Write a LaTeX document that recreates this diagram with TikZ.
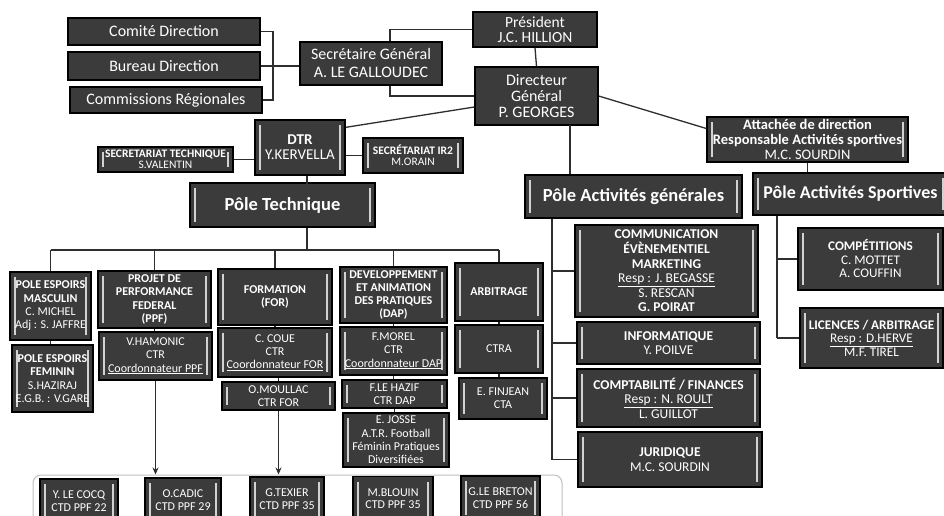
\documentclass[tikz,border=0pt]{standalone}
\usepackage{fontspec}
\setmainfont{Carlito}
\usetikzlibrary{arrows.meta}
\definecolor{boxgray}{HTML}{3B3B3B}
\definecolor{bargray}{HTML}{D2D2D2}
\definecolor{linegray}{HTML}{2E2E2E}
\tikzset{
  box/.style={draw=black,line width=1.3pt,fill=boxgray,text=white,align=center,inner sep=1pt},
  bevel/.style={box,path picture={
    \draw[bargray,line width=1.6pt]
      ([xshift=5pt,yshift=-5pt]path picture bounding box.north west) -- ([xshift=5pt,yshift=5pt]path picture bounding box.south west)
      ([xshift=-5pt,yshift=-5pt]path picture bounding box.north east) -- ([xshift=-5pt,yshift=5pt]path picture bounding box.south east);}},
  link/.style={draw=linegray,line width=1.3pt},
  fa/.style={font=\fontsize{16}{16}\selectfont},
  fsg/.style={font=\fontsize{16}{18}\selectfont},
  fp/.style={font=\fontsize{15.5}{15}\selectfont},
  fdtr/.style={font=\fontsize{15}{15}\selectfont},
  fatt/.style={font=\fontsize{14.5}{15}\selectfont},
  fsec/.style={font=\fontsize{11.5}{11}\selectfont},
  fpole/.style={font=\fontsize{18.5}{20}\selectfont\bfseries},
  frow/.style={font=\fontsize{12}{13.3}\selectfont},
  frowb/.style={font=\fontsize{12}{13.3}\selectfont\bfseries},
  fright/.style={font=\fontsize{13.5}{14.6}\selectfont},
  fsport/.style={font=\fontsize{13.2}{13.5}\selectfont},
  fctd/.style={font=\fontsize{12}{12.5}\selectfont},
}
\begin{document}
\begin{tikzpicture}[x=1pt,y=-1pt]
\useasboundingbox[fill=white] (0,0) rectangle (944,515);
% instances de direction
\node[box,fa,minimum width=192pt,minimum height=27pt] (comite) at (164,31.5) {Comité Direction};
\node[box,fa,minimum width=192pt,minimum height=28pt] (bureau) at (164,66) {Bureau Direction};
\node[box,fa,minimum width=192pt,minimum height=26pt] (commissions) at (166,100) {Commissions Régionales};
\node[box,fsg,minimum width=142pt,minimum height=43pt] (secgen) at (371,63.5) {Secrétaire Général\\A. LE GALLOUDEC};
\node[box,fp,minimum width=124pt,minimum height=35pt] (president) at (535,29.5) {Président\\J.C. HILLION};
\node[box,fa,minimum width=123pt,minimum height=58pt] (directeur) at (536.5,96) {Directeur\\Général\\P. GEORGES};
\node[bevel,fatt,minimum width=201pt,minimum height=45pt] (attachee) at (807.5,139.5) {\textbf{Attachée de direction}\\\textbf{Responsable Activités sportives}\\M.C. SOURDIN};
\node[bevel,fdtr,minimum width=90pt,minimum height=55pt] (dtr) at (300,147.5) {\textbf{DTR}\\Y.KERVELLA};
\node[bevel,fsec,minimum width=135pt,minimum height=25pt] (sectech) at (165.5,159.5) {\textbf{SECRETARIAT TECHNIQUE}\\S.VALENTIN};
\node[bevel,fsec,minimum width=100pt,minimum height=35pt] (secir) at (413,155.5) {\textbf{SECRÉTARIAT IR2}\\M.ORAIN};
% poles
\node[bevel,fpole,minimum width=185pt,minimum height=44pt] (poletech) at (282.5,205) {Pôle Technique};
\node[bevel,fpole,minimum width=217pt,minimum height=43pt] (poleag) at (633.5,196.5) {Pôle Activités générales};
\node[bevel,fpole,font=\fontsize{18}{20}\selectfont\bfseries,minimum width=195pt,minimum height=42pt] (poleas) at (850.5,194) {Pôle Activités Sportives};
% pole technique
\node[bevel,frow,minimum width=81pt,minimum height=68pt] (espm) at (50.5,306) {\textbf{POLE ESPOIRS}\\\textbf{MASCULIN}\\C. MICHEL\\Adj : S. JAFFRE};
\node[bevel,frow,minimum width=81pt,minimum height=67pt] (espf) at (52.5,378.5) {\textbf{POLE ESPOIRS}\\\textbf{FEMININ}\\S.HAZIRAJ\\E.G.B. : V.GARE};
\node[bevel,frowb,minimum width=113pt,minimum height=57pt] (ppf) at (154.5,299.5) {PROJET DE\\PERFORMANCE\\FEDERAL\\(PPF)};
\node[bevel,frow,minimum width=113pt,minimum height=48pt] (hamonic) at (155.5,356) {V.HAMONIC\\CTR\\\underline{Coordonnateur PPF}};
\node[bevel,frowb,minimum width=114pt,minimum height=56pt] (form) at (275,297) {FORMATION\\(FOR)};
\node[bevel,frow,minimum width=114pt,minimum height=49pt] (coue) at (275,352.5) {C. COUE\\CTR\\\underline{Coordonnateur FOR}};
\node[bevel,frow,minimum width=113pt,minimum height=28pt] (moullac) at (278.5,396) {O.MOULLAC\\CTR FOR};
\node[bevel,frowb,minimum width=107pt,minimum height=56pt] (dap) at (393.5,295) {DEVELOPPEMENT\\ET ANIMATION\\DES PRATIQUES\\(DAP)};
\node[bevel,frow,minimum width=107pt,minimum height=48pt] (morel) at (393.5,351) {F.MOREL\\CTR\\\underline{Coordonnateur DAP}};
\node[bevel,frow,minimum width=105pt,minimum height=28pt] (lehazif) at (394.5,394) {F.LE HAZIF\\CTR DAP};
\node[bevel,frow,minimum width=106pt,minimum height=54pt] (josse) at (396,440) {E. JOSSE\\A.T.R. Football\\Féminin Pratiques\\Diversifiées};
\node[bevel,frowb,minimum width=88pt,minimum height=58pt] (arbit) at (499,292) {ARBITRAGE};
\node[bevel,frow,minimum width=88pt,minimum height=48pt] (ctra) at (499,349) {CTRA};
\node[bevel,frow,minimum width=88pt,minimum height=41pt] (finjean) at (503,398.5) {E. FINJEAN\\CTA};
% pole activites generales
\node[bevel,fright,minimum width=183pt,minimum height=92pt] (comm) at (666.5,271) {\textbf{COMMUNICATION}\\\textbf{ÉVÈNEMENTIEL}\\\textbf{MARKETING}\\\underline{Resp : J. BEGASSE}\\S. RESCAN\\\textbf{G. POIRAT}};
\node[bevel,fright,minimum width=183pt,minimum height=42pt] (info) at (668.5,343) {\textbf{INFORMATIQUE}\\Y. POILVE};
\node[bevel,fright,minimum width=183pt,minimum height=58pt] (compta) at (668.5,398) {\textbf{COMPTABILITÉ / FINANCES}\\\underline{Resp : N. ROULT}\\L. GUILLOT};
\node[bevel,fright,minimum width=184pt,minimum height=55pt] (juri) at (670,459.5) {\textbf{JURIDIQUE}\\M.C. SOURDIN};
% pole activites sportives
\node[bevel,fsport,minimum width=145pt,minimum height=62pt] (compet) at (870.5,259) {\textbf{COMPÉTITIONS}\\C. MOTTET\\A. COUFFIN};
\node[bevel,fsport,minimum width=143pt,minimum height=60pt] (licences) at (871.5,338) {\textbf{LICENCES / ARBITRAGE}\\\underline{Resp : D.HERVE}\\M.F. TIREL};
% CTD
\node[draw=black!25,line width=1pt,rounded corners=8pt,fill=white,minimum width=529pt,minimum height=62pt] (pool) at (297.5,506) {};
\node[bevel,fctd,minimum width=78pt,minimum height=44pt] (lecocq) at (79,501) {Y. LE COCQ\\CTD PPF 22};
\node[bevel,fctd,minimum width=76pt,minimum height=44pt] (cadic) at (183,500) {O.CADIC\\CTD PPF 29};
\node[bevel,fctd,minimum width=74pt,minimum height=44pt] (texier) at (287,499) {G.TEXIER\\CTD PPF 35};
\node[bevel,fctd,minimum width=80pt,minimum height=44pt] (blouin) at (393,498.5) {M.BLOUIN\\CTD PPF 35};
\node[bevel,fctd,minimum width=79pt,minimum height=44pt] (lebreton) at (500.5,498) {G.LE BRETON\\CTD PPF 56};

\coordinate (dgfoot) at (570,125);
\coordinate (tbus) at (307,250);
\coordinate (gbus) at (552,218);
\coordinate (sbus) at (777,215);

% liens direction
\draw[link] (comite.east) -| (273,66) |- (commissions.east);
\draw[link] (bureau.east) -- (bureau.east -| secgen.west);
\draw[link] ([xshift=19pt]secgen.north) |- (president.west);
\draw[link] ([xshift=19pt]secgen.south) |- (directeur.west);
\draw[link] (president.south) -- (directeur.north);
\draw[link] ([yshift=-11pt]directeur.west) -- ([yshift=-8pt]dtr.north east);
\draw[link] (directeur.east) -- ([yshift=11pt]attachee.west);
\draw[link] (dgfoot) -- (dgfoot |- poleag.north);
\draw[link] (attachee.south) -- (attachee.south |- poleas.north);
\draw[link] (sectech.east) -- (sectech.east -| dtr.west);
\draw[link] (secir.west -| dtr.east) -- (secir.west);
\draw[link] ([xshift=7pt]dtr.south) -- +(0,8);

% liens pole technique
\draw[link] (poletech.south -| tbus) -- (tbus);
\draw[link] (espm.north |- tbus) -- (arbit.north |- tbus);
\foreach \n in {espm,ppf,form,dap,arbit}
  \draw[link] (\n.north) -- (\n.north |- tbus);
\draw[link] (espm.south) -- (espm.south |- espf.north);
\draw[link] (ppf.south) -- (ppf.south |- hamonic.north);
\draw[link] (form.south) -- (form.south |- coue.north);
\draw[link] (moullac.north) -- (moullac.north |- coue.south);
\draw[link] (dap.south) -- (dap.south |- morel.north);
\draw[link] (morel.south) -- (morel.south |- lehazif.north);
\draw[link] (lehazif.south) -- (lehazif.south |- josse.north);
\draw[link] (arbit.south) -- (arbit.south |- ctra.north);
\draw[link] (ctra.south) -- (ctra.south |- finjean.north);
\draw[link,-{Stealth[length=7pt,width=6pt]}] (hamonic.south) -- (hamonic.south |- pool.north);
\draw[link,-{Stealth[length=7pt,width=6pt]}] (moullac.south) -- (moullac.south |- pool.north);

% liens poles activites
\draw[link] (poleag.south -| gbus) -- (gbus |- juri.west);
\foreach \n in {comm,info,compta,juri}
  \draw[link] (\n.west -| gbus) -- (\n.west);
\draw[link] (poleas.south -| sbus) -- (sbus |- licences.west);
\foreach \n in {compet,licences}
  \draw[link] (\n.west -| sbus) -- (\n.west);
\end{tikzpicture}
\end{document}
